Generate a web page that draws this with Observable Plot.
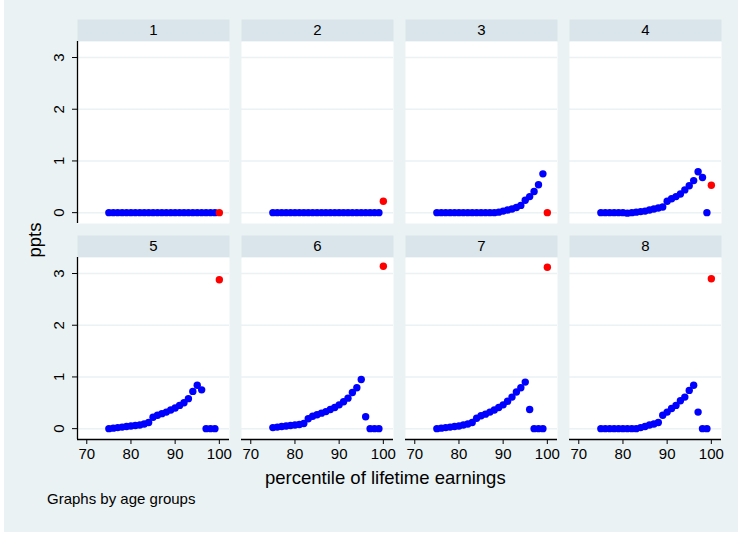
<!DOCTYPE html>
<html><head><meta charset="utf-8">
<script src="https://cdn.jsdelivr.net/npm/d3@7"></script>
<script src="https://cdn.jsdelivr.net/npm/@observablehq/plot@0.6"></script>
<style>
body{margin:0;background:#fff;font-family:"Liberation Sans",Arial,sans-serif;}
#wrap{position:relative;width:738px;height:537px;overflow:hidden;}
#bg{position:absolute;left:4px;top:0;width:734px;height:532px;background:#EAF2F3;}
#chart{position:absolute;left:0;top:0;}
.lbl{position:absolute;color:#000;white-space:nowrap;}
#xt{left:265px;top:469px;font-size:18.5px;line-height:18.5px;}
#yt{left:35px;top:240px;font-size:18.5px;line-height:18.5px;transform:translate(-50%,-50%) rotate(-90deg);}
#cap{left:47px;top:491px;font-size:15px;line-height:15px;}
</style></head><body>
<div id="wrap"><div id="bg"></div><div id="chart"></div>
<div class="lbl" id="xt">percentile of lifetime earnings</div>
<div class="lbl" id="yt">ppts</div>
<div class="lbl" id="cap">Graphs by age groups</div>
</div>
<script>
// ---- data ----
const pct = [75,76,77,78,79,80,81,82,83,84,85,86,87,88,89,90,91,92,93,94,95,96,97,98,99,100];
const groupLabels = ["1","2","3","4","5","6","7","8"];
const g1 = [0,0,0,0,0,0,0,0,0,0,0,0,0,0,0,0,0,0,0,0,0,0,0,0,0,0];
const g2 = [0,0,0,0,0,0,0,0,0,0,0,0,0,0,0,0,0,0,0,0,0,0,0,0,0,0.22];
const g3 = [0,0,0,0,0,0,0,0,0,0,0,0,0,0,0.01,0.03,0.05,0.07,0.1,0.14,0.24,0.31,0.41,0.54,0.75,0];
const g4 = [0,0,0,0,0,0,-0.01,0,0.01,0.02,0.03,0.05,0.07,0.09,0.11,0.22,0.27,0.31,0.36,0.44,0.52,0.62,0.79,0.68,0,0.53];
const g5 = [0,0.01,0.02,0.03,0.04,0.05,0.06,0.07,0.09,0.12,0.22,0.26,0.29,0.32,0.36,0.4,0.45,0.5,0.58,0.72,0.84,0.75,0,0,0,2.88];
const g6 = [0.02,0.03,0.04,0.05,0.06,0.07,0.08,0.1,0.19,0.24,0.27,0.3,0.33,0.37,0.41,0.46,0.52,0.59,0.7,0.79,0.95,0.23,0,0,0,3.14];
const g7 = [0,0.01,0.02,0.03,0.04,0.05,0.07,0.09,0.12,0.2,0.25,0.28,0.32,0.36,0.41,0.46,0.53,0.61,0.71,0.79,0.9,0.37,0,0,0,3.12];
const g8 = [0,0,0,0,0,0,0,0,0,0.02,0.04,0.07,0.09,0.12,0.26,0.32,0.39,0.45,0.54,0.61,0.74,0.84,0.32,0,0,2.9];
const series = [g1,g2,g3,g4,g5,g6,g7,g8];
const yTicks = [0,1,2,3];
const xTicks = [70,80,90,100];

// ---- styles / layout ----
const blue = "#0000FF", red = "#FF0000";
const stripColor = "#D9E5EB", gridColor = "#EAF2F3";
const panelW = 152, gapX = 12, stripH = 22, plotH = 182, gapY = 12;
const xDom = [67.9, 102.3];
const yMin = -0.21, yMax = 3.31;
const yTop = yMax + stripH * (yMax - yMin) / plotH;

const rows = [];
series.forEach((vals, i) => vals.forEach((v, j) => rows.push({
  group: groupLabels[i], col: i % 4, row: Math.floor(i / 4),
  pct: pct[j], value: v, top: j === pct.length - 1
})));
const cells = groupLabels.map((g, i) => ({group: g, col: i % 4, row: Math.floor(i / 4)}));

const chart = Plot.plot({
  width: 738, height: 537,
  marginLeft: 77, marginRight: 17, marginTop: 19, marginBottom: 98,
  style: {background: "transparent", fontFamily: '"Liberation Sans", Arial, sans-serif', fontSize: "15px", color: "black"},
  x: {domain: xDom},
  y: {domain: [yMin, yTop]},
  fx: {domain: [0,1,2,3], paddingInner: gapX / (panelW + gapX), paddingOuter: 0, axis: null},
  fy: {domain: [0,1], paddingInner: gapY / (stripH + plotH + gapY), paddingOuter: 0, axis: null},
  marks: [
    Plot.frame({fill: stripColor, stroke: null, insetBottom: plotH}),
    Plot.frame({fill: "white", stroke: null, insetTop: stripH}),
    Plot.ruleY(yTicks, {stroke: gridColor, strokeWidth: 1.5}),
    Plot.ruleX(cells.filter(c => c.col === 0), {x: () => xDom[0], y1: () => yMin, y2: () => yMax, fx: "col", fy: "row", stroke: "black", strokeWidth: 1.3}),
    Plot.ruleY(cells.filter(c => c.row === 1), {y: () => yMin, fx: "col", fy: "row", stroke: "black", strokeWidth: 1.3}),
    Plot.dot(rows.filter(d => !d.top), {x: "pct", y: "value", fx: "col", fy: "row", r: 3.7, fill: blue, stroke: null}),
    Plot.dot(rows.filter(d => d.top), {x: "pct", y: "value", fx: "col", fy: "row", r: 3.7, fill: red, stroke: null}),
    Plot.axisY({ticks: yTicks, tickFormat: d => String(d), tickSize: 5, tickPadding: 9, tickRotate: -90, anchor: "left", facetAnchor: "left", label: null, fontSize: 15}),
    Plot.axisX({ticks: xTicks, tickFormat: d => String(d), tickSize: 5, anchor: "bottom", facetAnchor: "bottom", label: null, fontSize: 15}),
    Plot.text(cells, {fx: "col", fy: "row", text: "group", frameAnchor: "top", lineAnchor: "middle", dy: stripH / 2, fontSize: 15, fontWeight: "normal", fill: "black"})
  ]
});
document.getElementById("chart").appendChild(chart);
</script>
</body></html>
